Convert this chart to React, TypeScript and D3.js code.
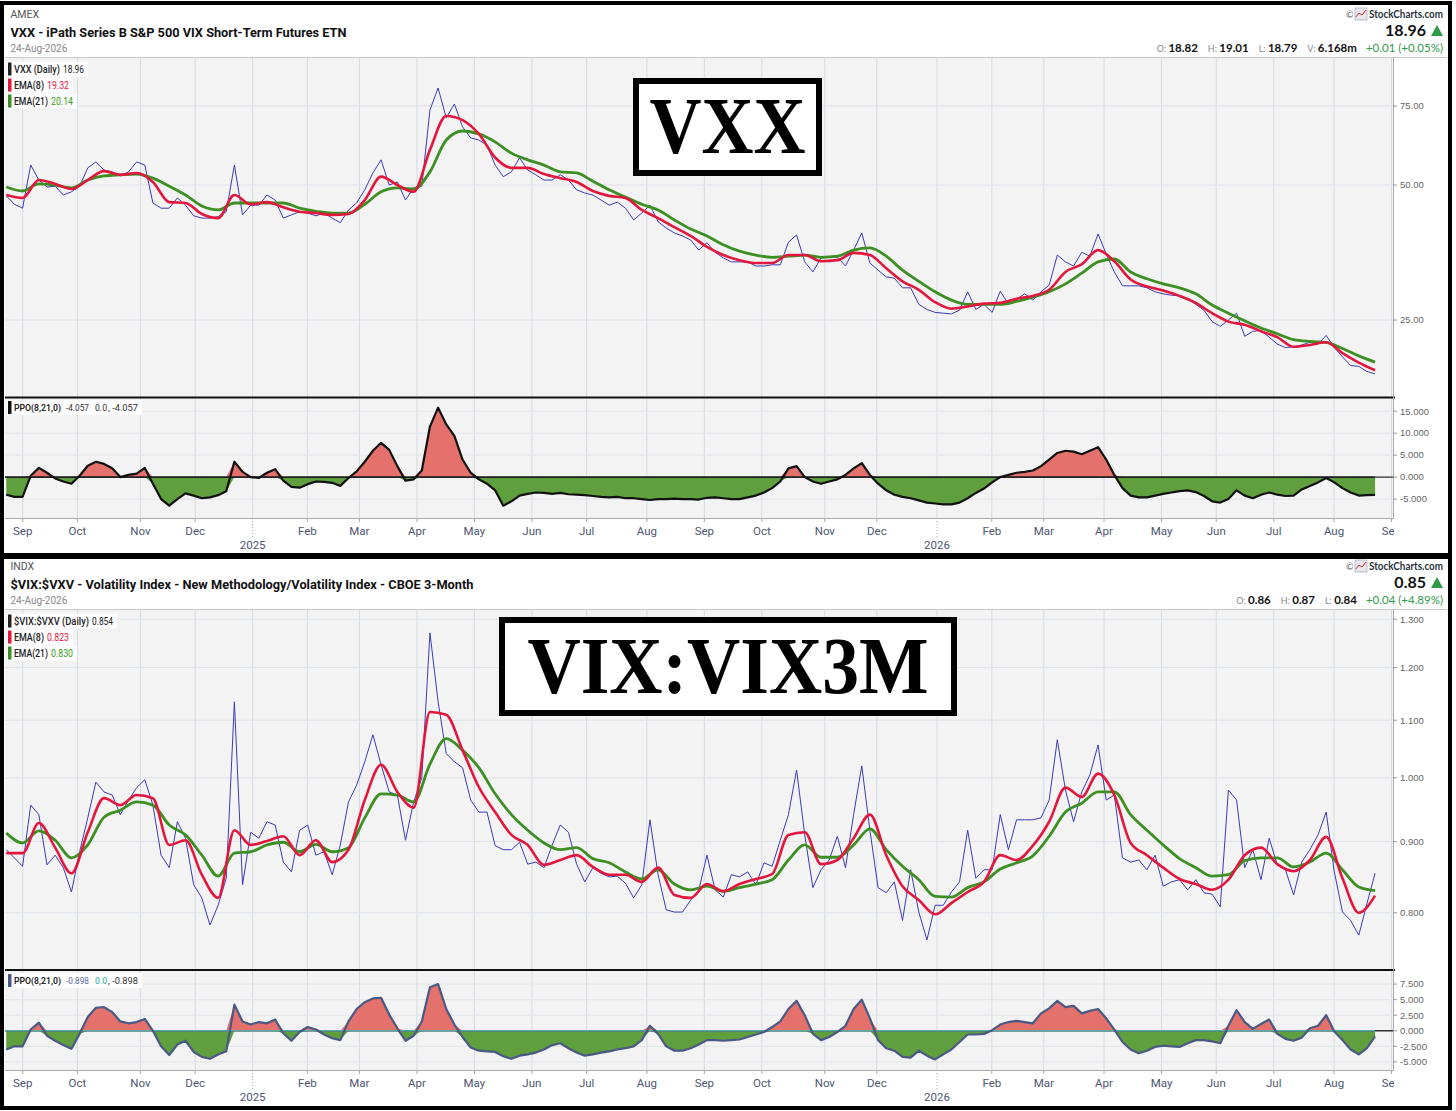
import React from 'react';
import * as d3 from 'd3';

// US market holidays inside the charted window
const HOLIDAYS = [
  '2024-09-02', '2024-11-28', '2024-12-25',
  '2025-01-01', '2025-01-09', '2025-01-20', '2025-02-17', '2025-04-18', '2025-05-26',
  '2025-06-19', '2025-07-04', '2025-09-01', '2025-11-27', '2025-12-25',
  '2026-01-01', '2026-01-19', '2026-02-16', '2026-04-03', '2026-05-25', '2026-06-19',
  '2026-07-03', '2026-09-07',
];
const SERIES_START = '2024-08-23';
const SERIES_END = '2026-08-24';

// ---- VXX (values sampled evenly from SERIES_START to SERIES_END) ----
const vxxClose = [
  47.3, 45.3, 44.4, 55.4, 51.3, 49.5, 49.7, 47.5, 48.3, 49.7,
  54.6, 56.3, 54.0, 53.5, 52.4, 53.5, 56.3, 55.4, 45.6, 44.4,
  44.4, 46.8, 45.1, 42.7, 42.2, 42.2, 42.5, 43.6, 55.4, 42.9,
  45.1, 45.1, 47.5, 46.3, 42.2, 42.9, 43.6, 43.3, 42.7, 43.3,
  42.2, 41.2, 44.0, 45.6, 48.8, 53.2, 56.9, 50.0, 50.8, 46.3,
  49.3, 49.7, 73.5, 82.3, 70.6, 75.8, 67.4, 63.7, 63.0, 61.4,
  55.4, 52.2, 53.5, 57.5, 54.0, 52.7, 51.3, 51.3, 52.7, 51.3,
  48.8, 48.0, 47.5, 46.3, 45.1, 45.8, 44.4, 41.8, 43.3, 45.1,
  41.4, 40.1, 39.1, 38.5, 37.7, 35.8, 37.2, 35.4, 34.4, 33.7,
  33.7, 33.7, 33.0, 33.0, 33.2, 33.2, 37.3, 38.7, 33.7, 32.0,
  34.4, 34.5, 34.5, 33.0, 35.8, 39.1, 33.5, 32.3, 31.2, 31.0,
  29.5, 29.5, 27.1, 26.4, 26.0, 25.9, 25.8, 26.3, 28.9, 26.4,
  27.1, 26.0, 29.0, 27.1, 27.8, 28.6, 27.7, 28.9, 29.9, 34.9,
  33.7, 33.0, 35.4, 34.7, 38.9, 35.1, 32.0, 29.8, 29.8, 29.8,
  29.5, 28.9, 28.6, 28.4, 28.3, 27.8, 27.1, 26.3, 24.8, 24.2,
  25.0, 25.9, 23.0, 23.6, 23.7, 22.9, 22.1, 21.7, 21.8, 22.0,
  22.3, 22.1, 23.1, 21.7, 20.7, 19.8, 19.7, 19.2, 18.96,
];
const vxxEma8 = [
  47.5, 46.8, 51.3, 50.3, 49.0, 51.3, 53.7, 52.7, 53.2, 50.8,
  45.8, 45.6, 43.1, 42.2, 47.5, 45.3, 45.8, 44.6, 43.6, 43.3,
  42.9, 43.1, 46.3, 52.2, 50.0, 48.3, 59.9, 71.3, 69.8, 65.0,
  57.6, 54.6, 54.6, 52.9, 51.8, 50.8, 48.5, 47.3, 46.8, 44.0,
  42.2, 40.3, 38.5, 36.4, 34.9, 34.0, 33.5, 33.5, 34.9, 34.9,
  33.8, 34.0, 35.3, 34.9, 32.6, 30.5, 29.2, 27.4, 26.5, 26.8,
  27.2, 27.3, 27.9, 28.3, 29.2, 32.0, 33.3, 35.8, 33.8, 30.8,
  29.7, 29.1, 28.3, 27.3, 25.9, 24.8, 24.4, 23.6, 22.9, 21.8,
  22.0, 22.3, 21.1, 20.1, 19.32,
];
const vxxEma21 = [
  49.5, 48.5, 50.3, 50.0, 49.3, 51.3, 52.4, 52.7, 52.9, 51.8,
  49.7, 47.5, 44.9, 44.0, 45.6, 45.6, 45.6, 45.6, 44.4, 43.7,
  43.3, 43.3, 45.3, 48.3, 49.3, 49.0, 53.5, 63.0, 66.0, 65.0,
  62.4, 58.9, 56.9, 55.4, 53.5, 53.2, 51.0, 48.8, 47.0, 45.3,
  44.0, 41.8, 39.9, 38.5, 36.8, 35.6, 34.9, 34.5, 34.7, 34.9,
  34.5, 34.7, 35.8, 36.2, 34.7, 32.3, 30.5, 28.9, 27.7, 27.1,
  27.1, 27.1, 27.5, 28.1, 28.9, 30.1, 31.8, 33.7, 34.2, 32.0,
  30.9, 30.1, 29.5, 28.6, 27.0, 25.9, 24.9, 24.0, 23.3, 22.6,
  22.4, 22.3, 21.6, 20.8, 20.14,
];
const vxxPpo = [
  -4.0, -4.5, -4.5, 0.3, 2.1, 1.0, -0.3, -1.0, -1.5, 0.3,
  2.6, 3.5, 3.0, 2.0, 0.0, 0.5, 0.8, 2.1, -1.5, -5.0,
  -6.5, -5.0, -3.7, -4.2, -4.8, -4.6, -4.1, -3.2, 3.5, 1.2,
  0.0, -0.2, 1.0, 1.8, -0.8, -2.2, -2.4, -1.6, -1.0, -1.1,
  -1.3, -2.0, -0.2, 1.3, 3.5, 6.0, 7.8, 6.2, 2.5, -0.8,
  -0.5, 1.5, 11.5, 15.8, 12.0, 9.4, 4.0, 1.0, -0.5, -1.5,
  -3.0, -6.5, -5.5, -4.2, -3.8, -3.5, -3.6, -3.8, -3.6, -3.9,
  -4.0, -4.1, -4.3, -4.5, -4.6, -4.5, -4.8, -4.8, -5.0, -5.2,
  -5.0, -5.0, -4.9, -5.0, -5.0, -5.1, -4.7, -4.6, -4.8, -5.0,
  -5.0, -4.6, -4.2, -3.5, -2.5, -1.0, 2.0, 2.5, 0.0, -1.0,
  -1.5, -1.0, -0.5, 0.5, 2.0, 3.2, 0.5, -1.5, -3.0, -4.0,
  -4.5, -4.8, -5.3, -5.8, -6.0, -6.2, -6.2, -5.8, -4.8, -3.6,
  -2.6, -1.2, 0.0, 0.5, 1.0, 1.2, 1.5, 2.5, 4.0, 5.5,
  6.0, 5.8, 5.2, 6.0, 6.8, 4.0, 0.5, -2.5, -4.2, -4.6,
  -4.6, -4.2, -3.8, -3.5, -3.2, -3.0, -3.4, -4.3, -5.5, -5.8,
  -5.0, -3.0, -4.2, -4.8, -4.0, -3.5, -4.0, -4.3, -4.2, -2.8,
  -2.0, -1.2, -0.2, -1.2, -2.5, -3.5, -4.2, -4.1, -4.06,
];
const vxxTicks = [25, 50, 75];
const vxxPpoTicks = [-5, 0, 5, 10, 15];
const vxxQuote = [['O', '18.82'], ['H', '19.01'], ['L', '18.79'], ['V', '6.168m']];

// ---- $VIX:$VXV ratio ----
const ratioClose = [
  0.888, 0.876, 0.864, 0.956, 0.941, 0.866, 0.880, 0.862, 0.828, 0.885,
  0.936, 0.993, 0.977, 0.972, 0.941, 0.964, 0.984, 0.997, 0.956, 0.880,
  0.862, 0.930, 0.905, 0.838, 0.820, 0.784, 0.810, 0.847, 1.134, 0.838,
  0.914, 0.905, 0.930, 0.925, 0.870, 0.856, 0.917, 0.925, 0.880, 0.885,
  0.852, 0.895, 0.961, 0.988, 1.027, 1.074, 1.022, 0.977, 0.972, 0.902,
  0.961, 1.000, 1.271, 1.134, 1.041, 1.027, 1.017, 0.964, 0.945, 0.945,
  0.894, 0.888, 0.888, 0.899, 0.867, 0.870, 0.862, 0.895, 0.925, 0.914,
  0.867, 0.842, 0.862, 0.854, 0.849, 0.850, 0.840, 0.820, 0.838, 0.933,
  0.852, 0.804, 0.801, 0.801, 0.817, 0.831, 0.880, 0.831, 0.821, 0.852,
  0.849, 0.856, 0.838, 0.869, 0.864, 0.902, 0.941, 1.013, 0.910, 0.834,
  0.859, 0.873, 0.908, 0.862, 0.941, 1.020, 0.917, 0.834, 0.827, 0.842,
  0.790, 0.859, 0.801, 0.765, 0.810, 0.810, 0.828, 0.842, 0.917, 0.847,
  0.859, 0.859, 0.941, 0.888, 0.933, 0.933, 0.933, 0.936, 0.964, 1.065,
  0.980, 0.930, 0.977, 1.005, 1.056, 0.964, 0.972, 0.876, 0.870, 0.873,
  0.859, 0.880, 0.836, 0.842, 0.845, 0.831, 0.845, 0.827, 0.825, 0.808,
  0.980, 0.964, 0.862, 0.888, 0.845, 0.905, 0.866, 0.859, 0.824, 0.870,
  0.888, 0.910, 0.945, 0.856, 0.801, 0.790, 0.771, 0.812, 0.854,
];
const ratioEma8 = [
  0.883, 0.883, 0.928, 0.891, 0.854, 0.914, 0.967, 0.956, 0.972, 0.967,
  0.895, 0.902, 0.852, 0.820, 0.917, 0.895, 0.901, 0.908, 0.880, 0.902,
  0.870, 0.888, 0.964, 1.022, 0.977, 0.952, 1.115, 1.110, 1.047, 0.985,
  0.945, 0.910, 0.895, 0.866, 0.873, 0.880, 0.863, 0.852, 0.852, 0.842,
  0.862, 0.824, 0.820, 0.839, 0.829, 0.839, 0.846, 0.853, 0.910, 0.914,
  0.867, 0.873, 0.905, 0.941, 0.880, 0.836, 0.817, 0.798, 0.813, 0.828,
  0.842, 0.880, 0.873, 0.894, 0.930, 0.984, 0.969, 1.007, 0.972, 0.898,
  0.880, 0.862, 0.846, 0.839, 0.831, 0.845, 0.880, 0.891, 0.867, 0.857,
  0.873, 0.907, 0.847, 0.800, 0.823,
];
const ratioEma21 = [
  0.913, 0.898, 0.916, 0.902, 0.876, 0.895, 0.937, 0.948, 0.961, 0.956,
  0.925, 0.910, 0.880, 0.850, 0.883, 0.885, 0.895, 0.899, 0.885, 0.896,
  0.885, 0.891, 0.936, 0.974, 0.972, 0.961, 1.023, 1.067, 1.047, 1.017,
  0.974, 0.941, 0.917, 0.898, 0.888, 0.891, 0.875, 0.869, 0.856, 0.846,
  0.859, 0.839, 0.831, 0.836, 0.829, 0.834, 0.839, 0.845, 0.873, 0.895,
  0.877, 0.877, 0.895, 0.919, 0.888, 0.864, 0.845, 0.822, 0.821, 0.834,
  0.842, 0.860, 0.869, 0.879, 0.908, 0.945, 0.959, 0.977, 0.977, 0.941,
  0.917, 0.895, 0.875, 0.862, 0.850, 0.852, 0.872, 0.876, 0.876, 0.863,
  0.870, 0.883, 0.859, 0.835, 0.830,
];
const ratioPpo = [
  -3.0, -2.5, -2.5, 0.2, 1.3, -0.8, -1.6, -2.3, -2.9, -0.5,
  2.2, 3.7, 3.8, 3.0, 1.5, 1.2, 1.4, 1.9, 0.0, -2.5,
  -3.9, -2.2, -1.6, -3.4, -4.2, -4.5, -3.8, -3.3, 4.2, 1.5,
  1.0, 1.4, 1.2, 1.8, -0.4, -1.6, -0.2, 0.6, 0.2, -0.6,
  -1.2, -1.5, 1.5, 3.5, 4.6, 5.2, 5.3, 2.6, 0.4, -1.6,
  -0.8, 1.5, 7.0, 7.5, 3.5, 1.0, -1.0, -2.7, -3.2, -3.3,
  -3.4, -4.1, -4.5, -4.0, -3.8, -3.5, -3.0, -2.3, -2.0, -2.8,
  -3.5, -4.0, -3.8, -3.5, -3.3, -3.0, -2.8, -2.5, -1.5, 0.8,
  -0.5, -2.5, -3.2, -3.2, -2.8, -2.2, -1.5, -1.5, -1.6, -1.5,
  -1.4, -1.0, -0.6, -0.2, 0.6, 1.5, 3.5, 4.8, 2.5, -0.5,
  -1.5, -1.0, -0.2, 0.8, 3.5, 5.0, 2.0, -1.5, -2.8, -3.2,
  -4.2, -4.3, -3.2, -4.0, -4.6, -3.8, -3.0, -1.8, -0.6, -0.6,
  -0.5, 0.1, 1.0, 1.4, 1.6, 1.4, 1.2, 2.8, 3.6, 4.8,
  3.8, 4.0, 2.8, 3.2, 3.5, 2.0, 0.2, -1.8, -3.0, -3.6,
  -3.2, -2.6, -2.4, -2.5, -2.6, -2.0, -1.5, -1.5, -1.7, -2.0,
  0.8, 3.3, 1.4, 0.3, 1.1, 1.8, -0.5, -1.3, -1.6, -1.1,
  0.4, 0.8, 2.5, -0.1, -1.5, -3.0, -3.8, -2.8, -0.9,
];
const ratioTicks = [0.8, 0.9, 1.0, 1.1, 1.2, 1.3];
const ratioPpoTicks = [-5, -2.5, 0, 2.5, 5, 7.5];
const ratioQuote = [['O', '0.86'], ['H', '0.87'], ['L', '0.84']];

// ---- time axis (trading days) ----
const fmtDay = d3.timeFormat('%Y-%m-%d');
const holidaySet = new Set(HOLIDAYS);
const tradingDays = d3.timeDay
  .range(new Date(2024, 7, 1), new Date(2026, 9, 1))
  .filter(d => d.getDay() !== 0 && d.getDay() !== 6 && !holidaySet.has(fmtDay(d)));
const dayIndex = (s: string) => tradingDays.findIndex(d => fmtDay(d) === s);

const PLOT_L = 5;
const PLOT_R = 1393;

const x = d3.scaleLinear()
  .domain([dayIndex('2024-09-03'), dayIndex('2026-08-03')])
  .range([22.7, 1334]);

const startIdx = dayIndex(SERIES_START);
const endIdx = dayIndex(SERIES_END);
const xOf = (n: number) => (k: number) => x(startIdx + ((endIdx - startIdx) * k) / (n - 1));

const monthTicks = tradingDays
  .map((d, i) => ({ d, i }))
  .filter(({ d, i }) => i > 0 && d.getMonth() !== tradingDays[i - 1].getMonth())
  .map(({ d, i }) => ({ d, px: x(i) }))
  .filter(t => t.px > PLOT_L && t.px <= PLOT_R);

const fmtMonth = d3.timeFormat('%b');
const fix = (s: string) => s.replace('\u2212', '-');

const RED = '#e3173e';
const GREEN = '#3c8f22';
const BLUE = '#3b3bb5';
const FONT = 'Roboto, "Liberation Sans", sans-serif';
const LATO = 'Lato, Roboto, sans-serif';

const panels = [
  {
    id: 'vxx',
    exchange: 'AMEX',
    title: 'VXX - iPath Series B S&P 500 VIX Short-Term Futures ETN',
    titleW: 336,
    date: '24-Aug-2026',
    last: '18.96',
    quote: vxxQuote,
    change: '+0.01 (+0.05%)',
    hy: [18, 37, 52],
    mainTop: 58, mainBottom: 397, ppoTop: 398, ppoBottom: 518, monthY: 535, yearY: 548.5,
    yDomain: [16.84, 96], yTicks: vxxTicks, yFmt: d3.format('.2f'),
    ppoDomain: [-9.3, 18], ppoTicks: vxxPpoTicks,
    close: vxxClose, ema8: vxxEma8, ema21: vxxEma21, ppo: vxxPpo,
    legend: ['VXX (Daily)', '18.96', '19.32', '20.14'],
    legendLab: [46, 30, 34], legendVal: [21, 22, 22],
    ppoLegend: ['-4.057', '0.0', ', -4.057'],
    ppoLine: '#111', ppoBar: '#111', ppoValColor: '#333', ppoMidColor: '#333', zero: '#111',
    box: { x: 636, y: 81, w: 183, h: 92, text: 'VXX', tl: 156, base: 153 },
  },
  {
    id: 'ratio',
    exchange: 'INDX',
    title: '$VIX:$VXV - Volatility Index - New Methodology/Volatility Index - CBOE 3-Month',
    titleW: 463,
    date: '24-Aug-2026',
    last: '0.85',
    quote: ratioQuote,
    change: '+0.04 (+4.89%)',
    hy: [570, 589, 604],
    mainTop: 610, mainBottom: 969, ppoTop: 971, ppoBottom: 1070, monthY: 1087, yearY: 1101,
    yDomain: [0.729, 1.32], yTicks: ratioTicks, yFmt: d3.format('.3f'),
    ppoDomain: [-6.3, 9.6], ppoTicks: ratioPpoTicks,
    close: ratioClose, ema8: ratioEma8, ema21: ratioEma21, ppo: ratioPpo,
    legend: ['$VIX:$VXV (Daily)', '0.854', '0.823', '0.830'],
    legendLab: [75, 30, 34], legendVal: [21, 22, 22],
    ppoLegend: ['-0.898', '0.0', ', -0.898'],
    ppoLine: '#4a5884', ppoBar: '#4a5884', ppoValColor: '#5a6aa0', ppoMidColor: '#2aa79b', zero: '#5aa9a6',
    box: { x: 502, y: 620, w: 452, h: 93, text: 'VIX:VIX3M', tl: 401, base: 693 },
  },
];

function Panel({ c }: { c: any }) {
  const y = d3.scaleLog().domain(c.yDomain).range([c.mainBottom, c.mainTop]);
  const yp = d3.scaleLinear().domain(c.ppoDomain).range([c.ppoBottom, c.ppoTop]);
  const mk = (arr: number[], sc: any) => {
    const xs = xOf(arr.length);
    return d3.line<number>().x((_, k) => xs(k)).y(v => sc(v)).curve(d3.curveMonotoneX)(arr) || '';
  };
  const closePath = (() => {
    const xs = xOf(c.close.length);
    return d3.line<number>().x((_, k) => xs(k)).y(v => y(v))(c.close) || '';
  })();
  const xsP = xOf(c.ppo.length);
  const posArea = d3.area<number>().x((_, k) => xsP(k)).y0(yp(0)).y1(v => yp(Math.max(0, v)))(c.ppo) || '';
  const negArea = d3.area<number>().x((_, k) => xsP(k)).y0(yp(0)).y1(v => yp(Math.min(0, v)))(c.ppo) || '';
  const ppoPath = d3.line<number>().x((_, k) => xsP(k)).y(v => yp(v))(c.ppo) || '';
  const dataEnd = xsP(c.ppo.length - 1);
  const clipMain = `clip-main-${c.id}`;
  const clipPpo = `clip-ppo-${c.id}`;
  const clipAxis = `clip-axis-${c.id}`;
  const [hy1, hy2, hy3] = c.hy;
  const sepY = (c.mainBottom + c.ppoTop) / 2;

  const legendRows = [
    { bar: '#222', label: c.legend[0], val: c.legend[1], valColor: '#222' },
    { bar: RED, label: 'EMA(8)', val: c.legend[2], valColor: RED },
    { bar: GREEN, label: 'EMA(21)', val: c.legend[3], valColor: '#3a9a1a' },
  ];

  return (
    <g>
      <defs>
        <clipPath id={clipMain}>
          <rect x={PLOT_L} y={c.mainTop} width={PLOT_R - PLOT_L} height={c.mainBottom - c.mainTop} />
        </clipPath>
        <clipPath id={clipPpo}>
          <rect x={PLOT_L} y={c.ppoTop} width={PLOT_R - PLOT_L} height={c.ppoBottom - c.ppoTop} />
        </clipPath>
        <clipPath id={clipAxis}>
          <rect x={0} y={c.ppoBottom} width={PLOT_R + 1} height={40} />
        </clipPath>
      </defs>

      {/* header */}
      <text x={10.5} y={hy1} fontFamily={FONT} fontSize={10.5} fill="#555">{c.exchange}</text>
      <text x={10.5} y={hy2} fontFamily={FONT} fontSize={13.5} fontWeight={700} fill="#111"
        textLength={c.titleW} lengthAdjust="spacingAndGlyphs">{c.title}</text>
      <text x={10.5} y={hy3} fontFamily={FONT} fontSize={10} fill="#888">{c.date}</text>

      <text x={1346} y={hy1} fontFamily={LATO} fontSize={9} fill="#666">©</text>
      <rect x={1355} y={hy1 - 10} width={12} height={12} fill="#e8e8ee" stroke="#99a" strokeWidth={0.6} />
      <path d={`M1356,${hy1 - 1} L1359,${hy1 - 5} L1362,${hy1 - 3} L1366,${hy1 - 8}`} stroke="#c33" strokeWidth={1} fill="none" />
      <text x={1369} y={hy1} fontFamily={LATO} fontSize={11.5} fontWeight={700} fill="#2b3440"
        textLength={74} lengthAdjust="spacingAndGlyphs">StockCharts.com</text>
      <text x={1426} y={hy2 - 1} textAnchor="end" fontFamily={LATO} fontSize={16} fontWeight={700} fill="#111">{c.last}</text>
      <path d={`M1431,${hy2 - 1} L1443,${hy2 - 1} L1437,${hy2 - 12} Z`} fill="#2e9a48" />
      <text x={1443} y={hy3} textAnchor="end" fontFamily={LATO} fontSize={11.5}>
        {c.quote.map(([lab, val]: string[], i: number) => (
          <React.Fragment key={lab}>
            <tspan dx={i === 0 ? 0 : 10} fill="#888" fontSize={9}>{lab}: </tspan>
            <tspan fill="#111" fontWeight={700}>{val}</tspan>
          </React.Fragment>
        ))}
        <tspan dx={9} fill="#2e9a48">{c.change}</tspan>
      </text>
      <line x1={PLOT_L} x2={1447} y1={c.mainTop - 0.5} y2={c.mainTop - 0.5} stroke="#c8c8c8" />

      {/* plot backgrounds */}
      <rect x={PLOT_L} y={c.mainTop} width={PLOT_R - PLOT_L} height={c.mainBottom - c.mainTop} fill="#f3f3f3" />
      <rect x={PLOT_L} y={c.ppoTop} width={PLOT_R - PLOT_L} height={c.ppoBottom - c.ppoTop} fill="#f3f3f3" />

      {/* grid */}
      {monthTicks.map(t => (
        <g key={`g${t.px}`}>
          <line x1={t.px} x2={t.px} y1={c.mainTop} y2={c.mainBottom} stroke="#d5dbe4" />
          <line x1={t.px} x2={t.px} y1={c.ppoTop} y2={c.ppoBottom} stroke="#d5dbe4" />
        </g>
      ))}
      {c.yTicks.map((v: number) => (
        <line key={`h${v}`} x1={PLOT_L} x2={PLOT_R} y1={y(v)} y2={y(v)} stroke="#dde1e7" />
      ))}
      {c.ppoTicks.map((v: number) => (
        <line key={`hp${v}`} x1={PLOT_L} x2={PLOT_R} y1={yp(v)} y2={yp(v)} stroke="#e1e4e8" />
      ))}

      {/* price lines */}
      <g clipPath={`url(#${clipMain})`}>
        <path d={closePath} fill="none" stroke={BLUE} strokeWidth={1} strokeLinejoin="round" />
        <path d={mk(c.ema21, y)} fill="none" stroke={GREEN} strokeWidth={2.8} strokeLinejoin="round" />
        <path d={mk(c.ema8, y)} fill="none" stroke={RED} strokeWidth={2.6} strokeLinejoin="round" />
      </g>

      {/* PPO histogram */}
      <g clipPath={`url(#${clipPpo})`}>
        <path d={posArea} fill="#e4716b" />
        <path d={negArea} fill="#5f9f3d" />
        <line x1={PLOT_L} x2={PLOT_R} y1={yp(0)} y2={yp(0)} stroke="#333" strokeWidth={1.3} />
        <line x1={PLOT_L} x2={dataEnd} y1={yp(0)} y2={yp(0)} stroke={c.zero} strokeWidth={1.3} />
        <path d={ppoPath} fill="none" stroke={c.ppoLine} strokeWidth={2.2} strokeLinejoin="round" />
      </g>

      {/* frames */}
      <line x1={PLOT_L} x2={PLOT_R + 2} y1={sepY} y2={sepY} stroke="#111" strokeWidth={2} />
      <line x1={PLOT_L} x2={PLOT_R} y1={c.ppoBottom + 0.5} y2={c.ppoBottom + 0.5} stroke="#aaa" />
      <line x1={PLOT_R + 0.5} x2={PLOT_R + 0.5} y1={c.mainTop} y2={c.ppoBottom + 1} stroke="#aaa" />

      {/* right axes */}
      {c.yTicks.map((v: number) => (
        <g key={`yt${v}`}>
          <line x1={PLOT_R} x2={PLOT_R + 4} y1={y(v)} y2={y(v)} stroke="#999" />
          <text x={PLOT_R + 7} y={y(v)} dy="0.35em" fontFamily="'Liberation Sans', Arial, sans-serif" fontSize={9.5} fill="#666">{c.yFmt(v)}</text>
        </g>
      ))}
      {c.ppoTicks.map((v: number) => (
        <g key={`pt${v}`}>
          <line x1={PLOT_R} x2={PLOT_R + 4} y1={yp(v)} y2={yp(v)} stroke="#999" />
          <text x={PLOT_R + 7} y={yp(v)} dy="0.35em" fontFamily="'Liberation Sans', Arial, sans-serif" fontSize={9.5} fill="#666">{fix(d3.format('.3f')(v))}</text>
        </g>
      ))}

      {/* bottom axis */}
      <g clipPath={`url(#${clipAxis})`}>
        {monthTicks.map(t => t.d.getMonth() === 0 ? (
          <g key={`m${t.px}`}>
            <line x1={t.px} x2={t.px} y1={c.ppoBottom} y2={c.ppoBottom + 19} stroke="#aaa" strokeDasharray="1,2" />
            <text x={t.px} y={c.yearY} textAnchor="middle" fontFamily={FONT} fontSize={11.5} fill="#4c5670">{t.d.getFullYear()}</text>
          </g>
        ) : (
          <g key={`m${t.px}`}>
            <line x1={t.px} x2={t.px} y1={c.ppoBottom} y2={c.ppoBottom + 4} stroke="#aaa" />
            <text x={t.px} y={c.monthY} textAnchor="middle" fontFamily={FONT} fontSize={11.5} fill="#4c5670">{fmtMonth(t.d)}</text>
          </g>
        ))}
      </g>

      {/* legends */}
      {legendRows.map((r, i) => {
        const by = c.mainTop + 14.5 + 16 * i;
        const lw = c.legendLab[i];
        const vw = c.legendVal[i];
        return (
          <g key={`lg${i}`}>
            <rect x={7} y={by - 11} width={lw + vw + 14} height={15} fill="#fff" opacity={0.9} />
            <rect x={8} y={by - 10} width={3.5} height={13} fill={r.bar} />
            <text x={14} y={by} fontFamily={FONT} fontSize={10} fontWeight={500} fill="#222"
              textLength={lw} lengthAdjust="spacingAndGlyphs">{r.label}</text>
            <text x={17 + lw} y={by} fontFamily={FONT} fontSize={10} fill={r.valColor}
              textLength={vw} lengthAdjust="spacingAndGlyphs">{r.val}</text>
          </g>
        );
      })}
      {(() => {
        const by = c.ppoTop + 13;
        return (
          <g>
            <rect x={7} y={by - 11} width={135} height={15} fill="#fff" opacity={0.9} />
            <rect x={8} y={by - 10} width={3.5} height={13} fill={c.ppoBar} />
            <text x={14} y={by} fontFamily={FONT} fontSize={8.6} fontWeight={600} fill="#222"
              textLength={47} lengthAdjust="spacingAndGlyphs">PPO(8,21,0)</text>
            <text x={66} y={by} fontFamily={FONT} fontSize={9.5} fill={c.ppoValColor}
              textLength={23} lengthAdjust="spacingAndGlyphs">{c.ppoLegend[0]}</text>
            <text x={95} y={by} fontFamily={FONT} fontSize={9.5} fill={c.ppoMidColor}
              textLength={12} lengthAdjust="spacingAndGlyphs">{c.ppoLegend[1]}</text>
            <text x={108} y={by} fontFamily={FONT} fontSize={9.5} fill="#333"
              textLength={30} lengthAdjust="spacingAndGlyphs">{c.ppoLegend[2]}</text>
          </g>
        );
      })()}

      {/* big label */}
      <rect x={c.box.x} y={c.box.y} width={c.box.w} height={c.box.h} fill="#fff" stroke="#000" strokeWidth={6} />
      <text x={c.box.x + c.box.w / 2} y={c.box.base} textAnchor="middle"
        fontFamily="'Liberation Serif', 'Times New Roman', serif" fontWeight={700} fontSize={80}
        textLength={c.box.tl} lengthAdjust="spacingAndGlyphs" fill="#000">{c.box.text}</text>
    </g>
  );
}

export default function App() {
  return (
    <div style={{ position: 'absolute', left: 0, top: 0 }}>
      <svg width={1456} height={1111} viewBox="0 0 1456 1111" style={{ display: 'block', background: '#fff' }}>
        <rect x={0} y={0} width={1456} height={1111} fill="#fff" />
        {panels.map(p => <Panel key={p.id} c={p} />)}
        <rect x={2} y={3} width={1448} height={552} fill="none" stroke="#000" strokeWidth={4} />
        <rect x={2} y={557} width={1448} height={551} fill="none" stroke="#000" strokeWidth={4} />
      </svg>
    </div>
  );
}
